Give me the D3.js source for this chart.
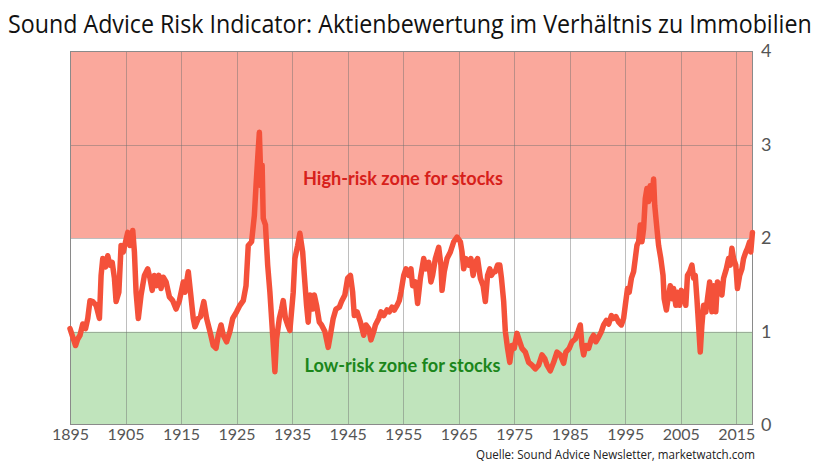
<!DOCTYPE html>
<html><head><meta charset="utf-8">
<script src="https://cdn.jsdelivr.net/npm/d3@7"></script>
<style>html,body{margin:0;padding:0;background:#fff;}svg{display:block;}</style>
</head><body>
<script>
const titleText = "Sound Advice Risk Indicator: Aktienbewertung im Verhältnis zu Immobilien";
const sourceText = "Quelle: Sound Advice Newsletter, marketwatch.com";
const highLabel = "High-risk zone for stocks";
const lowLabel = "Low-risk zone for stocks";
const xTicks = [1895,1905,1915,1925,1935,1945,1955,1965,1975,1985,1995,2005,2015];
const yTicks = [0,1,2,3,4];
const zones = [
  {from:0, to:1, color:"#c0e4bc"},
  {from:1, to:2, color:"#ffffff"},
  {from:2, to:4, color:"#faa89c"}
];
const years = [
1895.0,1895.5,1896.0,1896.4,1896.8,1897.3,1897.8,1898.2,1898.6,1899.1,1899.7,1900.3,1900.6,1900.9,1901.4,1901.8,1902.2,1902.6,1903.0,1903.3,1903.8,1904.2,1904.6,1905.0,1905.4,1905.8,1906.3,1906.6,1906.9,1907.3,1907.8,1908.4,1909.0,1909.4,1909.8,1910.2,1910.6,1911.0,1911.4,1911.8,1912.3,1912.9,1913.5,1914.1,1914.7,
1915.4,1915.7,1916.3,1916.7,1917.2,1917.5,1918.1,1918.5,1919.1,1919.6,1920.2,1920.8,1921.3,1921.7,1922.2,1922.6,1923.2,1923.8,1924.3,1925.0,1925.6,1926.2,1926.7,1927.1,1927.7,1928.2,1928.5,1928.8,1929.1,1929.4,1929.6,1929.8,1930.2,1930.6,1931.0,1931.5,1931.9,1932.2,1932.7,1933.1,1933.4,1933.8,1934.2,1934.6,1935.2,
1935.5,1936.0,1936.4,1936.9,1937.2,1937.6,1937.9,1938.2,1938.7,1939.0,1939.4,1939.9,1940.3,1940.9,1941.5,1942.0,1942.4,1942.9,1943.5,1943.9,1944.5,1945.0,1945.5,1945.9,1946.2,1946.7,1947.3,1947.9,1948.3,1948.8,1949.2,1949.7,1950.0,1950.6,1951.0,1951.5,1952.1,1952.5,1953.0,1953.4,1953.9,1954.3,1954.6,1955.1,1955.5,1956.0,
1956.4,1956.7,1957.2,1957.6,1958.1,1958.7,1959.1,1959.6,1960.0,1960.3,1960.8,1961.4,1961.8,1962.0,1962.4,1962.9,1963.5,1964.1,1964.7,1965.3,1965.6,1965.9,1966.3,1966.8,1967.2,1967.6,1968.0,1968.4,1968.9,1969.4,1969.8,1970.2,1970.6,1970.9,1971.3,1971.6,1972.0,1972.4,1972.7,1973.1,1973.4,1973.8,1974.2,1974.6,1975.0,1975.5,1976.0,1976.4,
1977.0,1977.6,1978.2,1978.8,1979.4,1980.0,1980.5,1980.9,1981.5,1982.1,1982.7,1983.3,1983.9,1984.3,1984.9,1985.4,1986.0,1986.5,1986.9,1987.2,1987.5,1987.9,1988.4,1988.9,1989.3,1989.7,1990.2,1990.7,1991.1,1991.6,1992.0,1992.5,1992.9,1993.3,1993.8,1994.3,1994.7,1995.0,1995.4,1995.7,1996.1,1996.5,1996.8,1997.1,1997.4,1997.7,
1998.0,1998.3,1998.6,1998.9,1999.2,1999.5,1999.8,2000.1,2000.3,2000.7,2001.0,2001.4,2001.8,2002.0,2002.4,2002.7,2003.1,2003.4,2003.7,2004.1,2004.4,2004.8,2005.1,2005.5,2005.9,2006.2,2006.6,2007.0,2007.3,2007.6,2007.9,2008.2,2008.5,2008.8,2009.1,2009.5,2009.8,2010.2,2010.6,2010.9,2011.3,2011.6,2012.0,2012.4,2012.7,2013.2,2013.6,2013.9,2014.2,2014.5,2014.9,2015.2,2015.6,2016.0,2016.3,2016.7,2017.0,2017.4,2017.6,2017.9
];
const ratio = [
1.03,0.94,0.85,0.92,0.96,1.08,1.03,1.14,1.33,1.32,1.28,1.14,1.60,1.78,1.69,1.81,1.71,1.74,1.57,1.32,1.42,1.92,1.85,1.96,2.06,1.92,2.08,1.85,1.42,1.14,1.39,1.60,1.67,1.57,1.44,1.60,1.49,1.60,1.46,1.58,1.53,1.37,1.33,1.24,1.33,
1.53,1.42,1.64,1.42,1.14,1.05,1.14,1.16,1.32,1.14,1.00,0.85,0.82,0.96,1.07,0.96,0.89,1.00,1.14,1.21,1.28,1.33,1.49,1.92,1.96,2.24,2.56,2.85,3.13,2.56,2.78,2.21,2.14,1.71,1.42,0.96,0.57,0.92,1.14,1.24,1.33,1.14,1.07,1.01,1.42,
1.78,1.92,2.05,1.85,1.60,1.28,1.10,1.39,1.24,1.39,1.28,1.10,1.07,1.00,0.83,1.00,1.14,1.24,1.26,1.32,1.39,1.57,1.60,1.42,1.17,1.21,1.10,0.96,1.07,1.03,0.91,1.00,1.07,1.14,1.21,1.17,1.23,1.21,1.26,1.23,1.28,1.33,1.42,1.60,1.67,1.60,
1.67,1.49,1.53,1.30,1.57,1.78,1.67,1.74,1.53,1.60,1.78,1.90,1.71,1.44,1.64,1.78,1.85,1.96,2.01,1.96,1.85,1.67,1.78,1.71,1.78,1.60,1.74,1.78,1.57,1.49,1.32,1.60,1.67,1.60,1.64,1.64,1.71,1.71,1.57,1.32,1.00,0.82,0.67,0.85,0.82,0.98,0.89,0.82,
0.78,0.67,0.64,0.60,0.64,0.75,0.71,0.64,0.58,0.67,0.78,0.75,0.66,0.78,0.82,0.89,0.92,1.00,1.07,0.85,0.75,0.85,0.82,0.92,0.96,0.89,0.94,1.00,1.07,1.12,1.08,1.17,1.14,1.16,1.10,1.07,1.14,1.28,1.46,1.42,1.57,1.64,1.78,1.92,1.96,2.14,
1.96,2.10,2.42,2.53,2.39,2.56,2.42,2.63,2.35,2.10,1.92,1.78,1.60,1.35,1.23,1.35,1.49,1.35,1.46,1.28,1.42,1.28,1.44,1.39,1.28,1.60,1.64,1.71,1.57,1.60,1.35,1.07,0.78,1.07,1.28,1.21,1.35,1.53,1.21,1.49,1.21,1.53,1.49,1.39,1.57,1.67,1.78,1.71,1.89,1.78,1.71,1.46,1.60,1.67,1.78,1.85,1.89,1.96,1.85,2.06
];

const W = 821, H = 476;
const pLeft = 70, pRight = 753, pTop = 51, pBottom = 425;
const svg = d3.select("body").append("svg").attr("width", W).attr("height", H);

const x = d3.scaleLinear().domain([1895, 2018]).range([pLeft, pRight]);
const y = d3.scaleLinear().domain([0, 4]).range([pBottom, pTop]);

// zones
svg.append("g").selectAll("rect").data(zones).join("rect")
  .attr("x", pLeft).attr("width", pRight - pLeft)
  .attr("y", d => y(d.to)).attr("height", d => y(d.from) - y(d.to))
  .attr("fill", d => d.color);

// grid
const grid = svg.append("g").attr("stroke", "#6f6f6f").attr("stroke-opacity", 0.45).attr("stroke-width", 1);
grid.selectAll("line.v").data(xTicks.slice(1)).join("line").attr("class","v")
  .attr("x1", d => Math.round(x(d)) + 0.5).attr("x2", d => Math.round(x(d)) + 0.5)
  .attr("y1", pTop).attr("y2", pBottom);
grid.selectAll("line.h").data(yTicks.slice(1, -1)).join("line").attr("class","h")
  .attr("y1", d => Math.round(y(d)) + 0.5).attr("y2", d => Math.round(y(d)) + 0.5)
  .attr("x1", pLeft).attr("x2", pRight);

// frame
svg.append("rect").attr("x", pLeft + 0.5).attr("y", pTop + 0.5)
  .attr("width", pRight - pLeft - 1).attr("height", pBottom - pTop - 1)
  .attr("fill", "none").attr("stroke", "#8a8a8a").attr("stroke-width", 1);

// zone labels
svg.append("text").attr("x", 403).attr("y", 185).attr("text-anchor", "middle")
  .attr("font-family", "Lato, sans-serif").attr("font-weight", 700).attr("font-size", 18)
  .attr("fill", "#d7201a").attr("textLength", 200).attr("lengthAdjust", "spacingAndGlyphs").text(highLabel);
svg.append("text").attr("x", 402.5).attr("y", 372).attr("text-anchor", "middle")
  .attr("font-family", "Lato, sans-serif").attr("font-weight", 700).attr("font-size", 18)
  .attr("fill", "#1b861b").attr("textLength", 196).attr("lengthAdjust", "spacingAndGlyphs").text(lowLabel);

// line
const pts = years.map((yr, i) => [yr, ratio[i]]);
svg.append("path").datum(pts)
  .attr("fill", "none").attr("stroke", "#f4513a").attr("stroke-width", 5.5)
  .attr("stroke-linejoin", "round").attr("stroke-linecap", "round")
  .attr("d", d3.line().x(d => x(d[0])).y(d => y(d[1])));

// x axis
const xAxis = svg.append("g").attr("transform", `translate(0,${pBottom})`)
  .call(d3.axisBottom(x).tickValues(xTicks).tickFormat(d3.format("d")).tickSize(0).tickPadding(4));
xAxis.select(".domain").remove();
xAxis.selectAll("text").attr("font-family", "Lato, sans-serif").attr("font-size", 16).attr("fill", "#555");

// y axis (right)
const yAxis = svg.append("g").attr("transform", `translate(${pRight},0)`)
  .call(d3.axisRight(y).tickValues(yTicks).tickFormat(d3.format("d")).tickSize(0).tickPadding(8));
yAxis.select(".domain").remove();
yAxis.selectAll("text").attr("font-family", "Lato, sans-serif").attr("font-size", 18).attr("fill", "#555");

// title (condensed horizontally via a scale transform to fit the width)
const title = svg.append("text").attr("x", 0).attr("y", 0)
  .attr("font-family", "'Open Sans', sans-serif").attr("font-size", 25).attr("fill", "#111")
  .text(titleText);
const tLen = title.node().getComputedTextLength();
title.attr("transform", `translate(8,33) scale(${804 / tLen},1)`);

// source
const src = svg.append("text").attr("x", 0).attr("y", 0).attr("text-anchor", "end")
  .attr("font-family", "'Open Sans', sans-serif").attr("font-size", 12).attr("fill", "#222")
  .text(sourceText);
const sLen = src.node().getComputedTextLength();
src.attr("transform", `translate(755,459) scale(${279 / sLen},1)`);
</script>
</body></html>
